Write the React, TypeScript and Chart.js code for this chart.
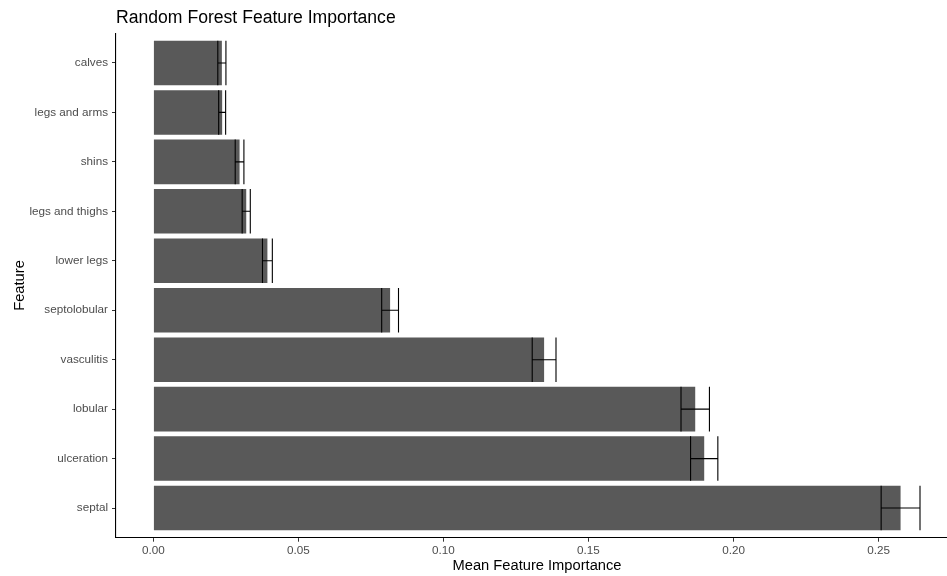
import React, { useEffect, useRef } from "react";
import { Chart, registerables } from "chart.js";

Chart.register(...registerables);

const FONT = "'Liberation Sans', Arial, sans-serif";

const chartTitle = "Random Forest Feature Importance";
const xTitle = "Mean Feature Importance";
const yTitle = "Feature";

// bottom to top
const features = [
  "septal",
  "ulceration",
  "lobular",
  "vasculitis",
  "septolobular",
  "lower legs",
  "legs and thighs",
  "shins",
  "legs and arms",
  "calves",
];
const importance = [0.2576, 0.1899, 0.1868, 0.1347, 0.0816, 0.0393, 0.032, 0.0297, 0.0237, 0.0236];
const errors = [0.0067, 0.0047, 0.0049, 0.0041, 0.0029, 0.0017, 0.0014, 0.0015, 0.0012, 0.0014];
const xTicks = [0, 0.05, 0.1, 0.15, 0.2, 0.25];

const errorBarPlugin = {
  id: "errorBars",
  afterDatasetsDraw(chart: any) {
    const { ctx } = chart;
    const x = chart.scales.x;
    const meta = chart.getDatasetMeta(0);
    ctx.save();
    ctx.strokeStyle = "#000000";
    ctx.lineWidth = 1.1;
    meta.data.forEach((bar: any, i: number) => {
      const lo = x.getPixelForValue(importance[i] - errors[i]);
      const hi = x.getPixelForValue(importance[i] + errors[i]);
      const h = bar.height / 2;
      const y = bar.y;
      ctx.beginPath();
      ctx.moveTo(lo, y);
      ctx.lineTo(hi, y);
      ctx.moveTo(lo, y - h);
      ctx.lineTo(lo, y + h);
      ctx.moveTo(hi, y - h);
      ctx.lineTo(hi, y + h);
      ctx.stroke();
    });
    ctx.restore();
  },
};

const titlePlugin = {
  id: "plotTitle",
  afterDraw(chart: any) {
    const { ctx, chartArea } = chart;
    ctx.save();
    ctx.fillStyle = "#000000";
    ctx.font = `17.6px ${FONT}`;
    ctx.textAlign = "left";
    ctx.textBaseline = "alphabetic";
    ctx.fillText(chartTitle, chartArea.left, 23);
    ctx.restore();
  },
};

export default function App() {
  const ref = useRef<HTMLCanvasElement | null>(null);

  useEffect(() => {
    if (!ref.current) return;
    const chart = new Chart(ref.current, {
      type: "bar",
      data: {
        datasets: [
          {
            data: features.map((_, i) => ({ x: importance[i], y: i })),
            backgroundColor: "#595959",
            borderWidth: 0,
            barPercentage: 0.9,
            categoryPercentage: 1,
          },
        ],
      },
      options: {
        indexAxis: "y",
        responsive: false,
        animation: false,
        layout: { padding: { top: 33.3, right: 4, left: 0, bottom: 0 } },
        plugins: {
          legend: { display: false },
          tooltip: { enabled: false },
          title: { display: false },
        },
        scales: {
          x: {
            type: "linear",
            min: -0.0129,
            max: 0.2774,
            offset: false,
            afterBuildTicks: (s: any) => {
              s.ticks = xTicks.map((v) => ({ value: v }));
            },
            afterFit: (s: any) => {
              s.height = 38.3;
            },
            ticks: {
              callback: (v: any) => Number(v).toFixed(2),
              color: "#4D4D4D",
              font: { size: 11.7, family: FONT },
              padding: 2,
              maxRotation: 0,
              autoSkip: false,
            },
            grid: { offset: false, drawOnChartArea: false, drawTicks: true, tickLength: 4, color: "#333333", lineWidth: 1 },
            border: { display: true, color: "#000000", width: 1.1 },
            title: {
              display: true,
              text: xTitle,
              color: "#000000",
              font: { size: 14.7, family: FONT },
              padding: { top: 0, bottom: 1 },
            },
          },
          y: {
            type: "linear",
            min: -0.6,
            max: 9.6,
            offset: false,
            afterBuildTicks: (s: any) => {
              s.ticks = features.map((_, i) => ({ value: i }));
            },
            afterFit: (s: any) => {
              s.width = 116;
            },
            ticks: {
              callback: (v: any) => features[v as number],
              color: "#4D4D4D",
              font: { size: 11.7, family: FONT },
              padding: 4,
              autoSkip: false,
            },
            grid: { offset: false, drawOnChartArea: false, drawTicks: true, tickLength: 4, color: "#333333", lineWidth: 1 },
            border: { display: true, color: "#000000", width: 1.1 },
            title: {
              display: true,
              text: yTitle,
              color: "#000000",
              font: { size: 14.7, family: FONT },
              padding: { top: 11, bottom: 0 },
            },
          },
        },
      } as any,
      plugins: [errorBarPlugin, titlePlugin],
    });
    return () => chart.destroy();
  }, []);

  return (
    <div
      style={{
        position: "fixed",
        left: 0,
        top: 0,
        width: 947,
        height: 576,
        overflow: "hidden",
        background: "#ffffff",
      }}
    >
      <canvas ref={ref} width={962} height={576} style={{ width: 962, height: 576, display: "block" }} />
    </div>
  );
}
